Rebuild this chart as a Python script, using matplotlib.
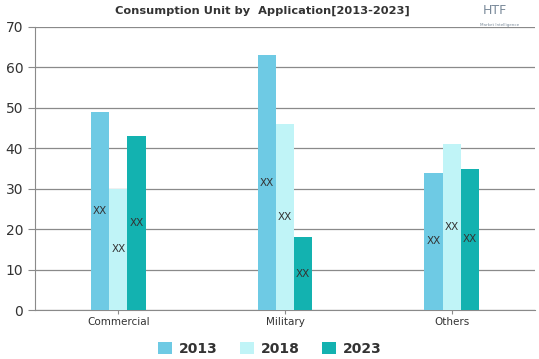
import numpy as np
import matplotlib.pyplot as plt

categories = ["Commercial", "Military", "Others"]
years = ["2013", "2018", "2023"]
values_2013 = [49, 63, 34]
values_2018 = [30, 46, 41]
values_2023 = [43, 18, 35]
bar_labels = ["XX", "XX", "XX"]

colors = ["#6ecae4", "#c0f4f7", "#13b2b0"]

fig = plt.figure(figsize=(5.39, 3.59), dpi=100)
ax = fig.add_axes([35 / 539, 1 - 310 / 359, 500 / 539, 283 / 359])

x = np.arange(len(categories))
width = 0.109
series = [values_2013, values_2018, values_2023]
for i, (vals, col, yr) in enumerate(zip(series, colors, years)):
    pos = x + (i - 1) * width
    bars = ax.bar(pos, vals, width=width, color=col, label=yr, zorder=3)
    for b, lab in zip(bars, bar_labels):
        ax.text(b.get_x() + b.get_width() / 2, b.get_height() / 2, lab,
                ha="center", va="center", fontsize=7.5, color="#333333", zorder=4)

ax.set_xlim(-0.5, 2.5)
ax.set_ylim(0, 70)
ax.set_yticks(range(0, 71, 10))
ax.yaxis.grid(True, color="#8a8a8a", linewidth=0.9, zorder=0)
ax.set_axisbelow(True)
for s in ["top", "right"]:
    ax.spines[s].set_visible(False)
ax.spines["left"].set_color("#8a8a8a")
ax.spines["bottom"].set_color("#8a8a8a")
ax.tick_params(axis="y", labelsize=10, colors="#333333", length=5, color="#8a8a8a")
ax.tick_params(axis="x", labelsize=7.5, colors="#333333", length=3, color="#8a8a8a", pad=2)
ax.set_xticks(x)
ax.set_xticklabels(categories)

fig.text(262 / 539, 1 - 11 / 359, "Consumption Unit by  Application[2013-2023]",
         ha="center", va="center", fontsize=8.2, fontweight="heavy",
         color="#333333")
fig.text(495 / 539, 1 - 10 / 359, "HTF", ha="center", va="center",
         fontsize=9, color="#7a8a9a")
fig.text(500 / 539, 1 - 25 / 359, "Market Intelligence", ha="center", va="center",
         fontsize=3, color="#7a8a9a")

handles, labels = ax.get_legend_handles_labels()
leg = fig.legend(handles, labels, loc="center", bbox_to_anchor=(270 / 539, 1 - 349 / 359),
                 ncol=3, frameon=False, fontsize=10, handlelength=1.0, handleheight=1.0,
                 columnspacing=1.6, handletextpad=0.5)
for t in leg.get_texts():
    t.set_color("#333333")
    t.set_fontweight("bold")

fig.savefig("out.png", dpi=100)
